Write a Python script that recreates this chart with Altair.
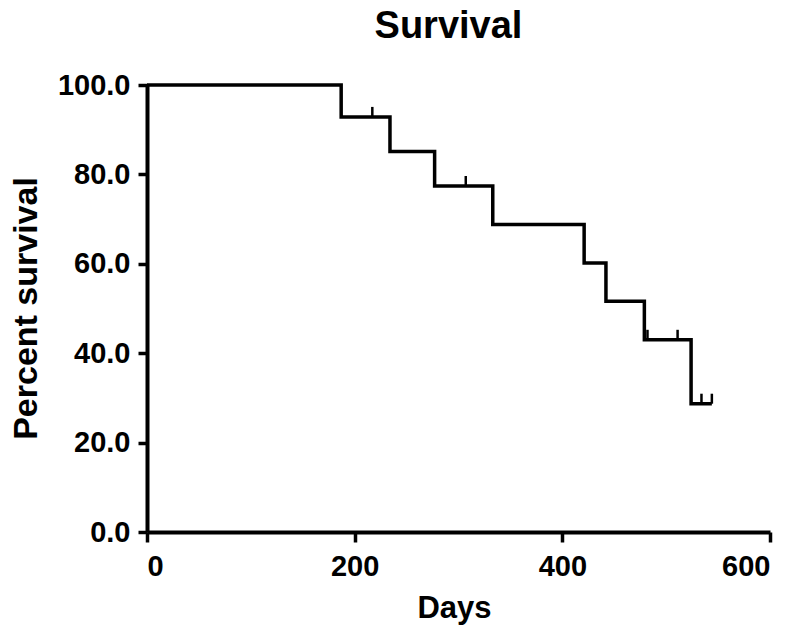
import altair as alt
import pandas as pd

# Kaplan-Meier step points (days, percent survival)
step_days = [0, 187, 234, 277, 333, 421, 442, 479, 524, 544]
step_surv = [100.0, 92.86, 85.1, 77.4, 68.8, 60.2, 51.6, 43.0, 28.7, 28.7]

# Censored observations
cens_days = [217, 307, 482, 511, 534, 544]
cens_surv = [92.86, 77.4, 43.0, 43.0, 28.7, 28.7]

steps = pd.DataFrame({"Days": step_days, "Survival": step_surv})
cens = pd.DataFrame({"Days": cens_days, "Survival": cens_surv})

FONT = "Liberation Sans"

x = alt.X(
    "Days:Q",
    scale=alt.Scale(domain=[0, 600], nice=False, zero=True),
    axis=alt.Axis(
        title="Days",
        values=[0, 200, 400, 600],
        format="d",
        grid=False,
        domainColor="black",
        domainWidth=4,
        tickColor="black",
        tickWidth=3.5,
        tickSize=10,
        labelFont=FONT,
        labelFontSize=29,
        labelFontWeight="bold",
        labelColor="black",
        labelPadding=10,
        titleFont=FONT,
        titleFontSize=31,
        titleFontWeight="bold",
        titleColor="black",
        titleX=307,
        titleY=85,
        titleBaseline="alphabetic",
        titleAnchor="middle",
        titleAlign="center",
    ),
)
y = alt.Y(
    "Survival:Q",
    scale=alt.Scale(domain=[0, 100], nice=False),
    axis=alt.Axis(
        title="Percent survival",
        values=[0, 20, 40, 60, 80, 100],
        format=".1f",
        grid=False,
        domainColor="black",
        domainWidth=4,
        tickColor="black",
        tickWidth=3.5,
        tickSize=9,
        labelFont=FONT,
        labelFontSize=29,
        labelFontWeight="bold",
        labelColor="black",
        labelPadding=8,
        titleFont=FONT,
        titleFontSize=34,
        titleFontWeight="bold",
        titleColor="black",
        titleAngle=270,
        titleX=-121,
        titleY=223,
        titleBaseline="middle",
        titleAlign="center",
    ),
)

line = alt.Chart(steps).mark_line(
    interpolate="step-after", color="black", strokeWidth=3.5
).encode(x=x, y=y)

ticks = alt.Chart(cens).mark_tick(
    orient="vertical", color="black", opacity=1, thickness=2.5, size=10, yOffset=-5
).encode(x="Days:Q", y="Survival:Q")

chart = (
    alt.layer(line, ticks)
    .properties(
        width=623,
        height=447,
        autosize=alt.AutoSizeParams(type="none"),
        padding={"left": 139, "top": 77, "right": 22, "bottom": 94},
        title=alt.TitleParams(
            "Survival",
            font=FONT,
            fontSize=38,
            fontWeight="bold",
            color="black",
            anchor="middle",
            frame="group",
            dx=-10,
            offset=25,
        ),
    )
    .configure(background="white")
    .configure_view(stroke=None, strokeWidth=0)
)

chart.save("out.html", embed_options={"renderer": "svg", "actions": False})
